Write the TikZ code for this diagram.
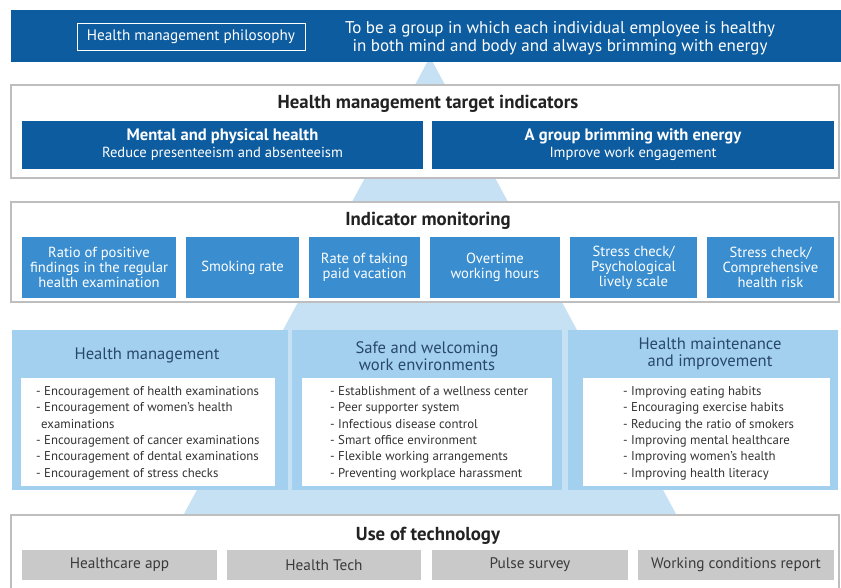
\documentclass[tikz,border=0pt]{standalone}
\usepackage{fontspec}
\setmainfont{PT Sans}
\definecolor{navy}{HTML}{0D5C9F}
\definecolor{midblue}{HTML}{3A8ECF}
\definecolor{colfill}{HTML}{A4D0EF}
\definecolor{pyr}{HTML}{C6E1F4}
\definecolor{techgray}{HTML}{C9C9C9}
\definecolor{techtext}{HTML}{3A3A3A}
\definecolor{coltitle}{HTML}{28486A}
\definecolor{secborder}{HTML}{BEBEBE}
\definecolor{listtext}{HTML}{333333}
\definecolor{titletext}{HTML}{222222}
\tikzset{
  sectionbox/.style={draw=secborder, line width=1.2pt, fill=white, inner sep=0},
  navybox/.style={fill=navy, text=white, inner sep=0, align=center},
  monbox/.style={fill=midblue, text=white, inner sep=0, align=center,
    font=\fontsize{14.6}{15}\selectfont},
  colbox/.style={fill=colfill, inner sep=0},
  innerbox/.style={fill=white, inner sep=0},
  techbox/.style={fill=techgray, text=techtext, inner sep=0,
    font=\fontsize{15.3}{17}\selectfont},
  sectitle/.style={text=titletext, inner sep=0, font=\fontsize{18.8}{20}\selectfont\bfseries},
  coltitlestyle/.style={text=coltitle, inner sep=0, align=center,
    font=\fontsize{16.6}{16.5}\selectfont},
  liststyle/.style={text=listtext, inner sep=0, align=left, anchor=north west,
    font=\fontsize{12.8}{16.4}\selectfont},
}
\begin{document}
\begin{tikzpicture}[x=1pt,y=-1pt]
\useasboundingbox (0,0) rectangle (841,587);
\fill[white] (0,0) rectangle (841,587);
% background pyramid
\fill[pyr] (430,57) -- (142,592) -- (718,592) -- cycle;

% philosophy banner
\node[navybox, minimum width=830, minimum height=52] (banner) at (426,36) {};
\node[draw=white, line width=0.8pt, text=white, inner sep=0,
  minimum width=228, minimum height=27,
  font=\fontsize{15.2}{17}\selectfont] (phil) at (191,36.5) {Health management philosophy};
\node[text=white, align=center, inner sep=0,
  font=\fontsize{17}{18}\selectfont] (philtext) at (560,38)
  {To be a group in which each individual employee is healthy\\in both mind and body and always brimming with energy};

% target indicators
\node[sectionbox, minimum width=828, minimum height=93] (target) at (425,131.5) {};
\node[sectitle] (targettitle) at (428,103.5) {Health management target indicators};
\node[navybox, minimum width=401, minimum height=48] (t1) at (222.5,144.5)
  {{\fontsize{16.6}{18}\selectfont\bfseries Mental and physical health}\\[2.5pt]
   {\fontsize{14.6}{15}\selectfont Reduce presenteeism and absenteeism}};
\node[navybox, minimum width=402, minimum height=48] (t2) at (633,144.5)
  {{\fontsize{16.6}{18}\selectfont\bfseries A group brimming with energy}\\[2.5pt]
   {\fontsize{14.6}{15}\selectfont Improve work engagement}};

% indicator monitoring
\node[sectionbox, minimum width=828, minimum height=100] (monitor) at (425,252) {};
\node[sectitle] (montitle) at (428,220.5) {Indicator monitoring};
\node[monbox, minimum width=154, minimum height=61] (m1) at (99,267.5)
  {Ratio of positive\\findings in the regular\\health examination};
\node[monbox, minimum width=113, minimum height=61] (m2) at (242.5,267.5) {Smoking rate};
\node[monbox, minimum width=111, minimum height=61] (m3) at (364.5,267.5) {Rate of taking\\paid vacation};
\node[monbox, minimum width=130, minimum height=61] (m4) at (495,267.5) {Overtime\\working hours};
\node[monbox, minimum width=127, minimum height=61] (m5) at (633.5,267.5) {Stress check/\\Psychological\\lively scale};
\node[monbox, minimum width=127, minimum height=61] (m6) at (770.5,267.5) {Stress check/\\Comprehensive\\health risk};

% three columns
\node[colbox, minimum width=276, minimum height=160] (c1) at (150,410) {};
\node[colbox, minimum width=270, minimum height=160] (c2) at (427,410) {};
\node[colbox, minimum width=270, minimum height=160] (c3) at (703,410) {};
\node[innerbox, minimum width=254, minimum height=108] (i1) at (148,432) {};
\node[innerbox, minimum width=250, minimum height=108] (i2) at (427,432) {};
\node[innerbox, minimum width=247, minimum height=108] (i3) at (706.5,432) {};
\node[coltitlestyle] (c1title) at (147,355) {Health management};
\node[coltitlestyle] (c2title) at (427,356) {Safe and welcoming\\work environments};
\node[coltitlestyle] (c3title) at (710,354) {Health maintenance\\and improvement};
\node[liststyle] (l1) at (36,386)
  {- Encouragement of health examinations\\
   - Encouragement of women's health\\
   \hspace*{5pt}examinations\\
   - Encouragement of cancer examinations\\
   - Encouragement of dental examinations\\
   - Encouragement of stress checks};
\node[liststyle] (l2) at (330,386)
  {- Establishment of a wellness center\\
   - Peer supporter system\\
   - Infectious disease control\\
   - Smart office environment\\
   - Flexible working arrangements\\
   - Preventing workplace harassment};
\node[liststyle] (l3) at (623,386)
  {- Improving eating habits\\
   - Encouraging exercise habits\\
   - Reducing the ratio of smokers\\
   - Improving mental healthcare\\
   - Improving women's health\\
   - Improving health literacy};

% use of technology
\node[sectionbox, minimum width=828, minimum height=82] (tech) at (425,556) {};
\node[sectitle] (techtitle) at (428,535.5) {Use of technology};
\node[techbox, minimum width=195, minimum height=30] (g1) at (119.5,565) {Healthcare app};
\node[techbox, minimum width=194, minimum height=30] (g2) at (324,565) {Health Tech};
\node[techbox, minimum width=196, minimum height=30] (g3) at (530,565) {Pulse survey};
\node[techbox, minimum width=196, minimum height=30] (g4) at (736,565) {Working conditions report};
\end{tikzpicture}
\end{document}
